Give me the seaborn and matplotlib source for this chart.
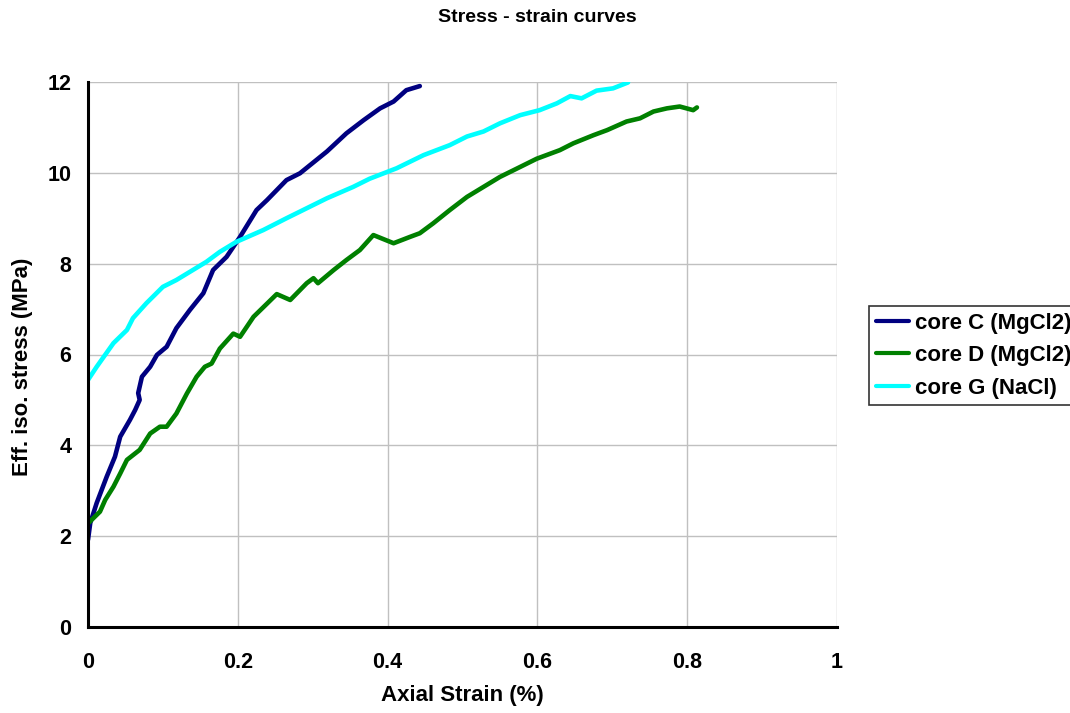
import numpy as np
import pandas as pd
import matplotlib
matplotlib.use("Agg")
import matplotlib.pyplot as plt
import seaborn as sns

# ---- data ----
c_strain = [0.0, 0.003, 0.0116, 0.025, 0.036, 0.043, 0.056, 0.063, 0.069, 0.067, 0.072, 0.083,
            0.092, 0.105, 0.118, 0.136, 0.154, 0.167, 0.185, 0.203, 0.225, 0.239, 0.265, 0.283,
            0.319, 0.345, 0.368, 0.390, 0.408, 0.425, 0.443]
c_stress = [1.92, 2.29, 2.73, 3.31, 3.75, 4.19, 4.56, 4.78, 5.00, 5.15, 5.51, 5.73,
            5.99, 6.17, 6.58, 6.98, 7.35, 7.86, 8.15, 8.59, 9.18, 9.40, 9.84, 9.99,
            10.47, 10.87, 11.16, 11.42, 11.57, 11.82, 11.91]

d_strain = [0.0, 0.016, 0.023, 0.034, 0.043, 0.052, 0.069, 0.083, 0.096, 0.105, 0.118, 0.132,
            0.145, 0.156, 0.165, 0.176, 0.194, 0.203, 0.221, 0.239, 0.252, 0.270, 0.292, 0.301,
            0.307, 0.328, 0.345, 0.363, 0.381, 0.408, 0.430, 0.443, 0.461, 0.483, 0.506, 0.528,
            0.550, 0.577, 0.599, 0.630, 0.648, 0.675, 0.693, 0.719, 0.737, 0.755, 0.773, 0.790,
            0.808, 0.813]
d_stress = [2.28, 2.54, 2.80, 3.09, 3.38, 3.68, 3.90, 4.26, 4.41, 4.41, 4.70, 5.14,
            5.51, 5.73, 5.80, 6.13, 6.46, 6.39, 6.83, 7.12, 7.33, 7.20, 7.57, 7.68,
            7.57, 7.86, 8.08, 8.30, 8.63, 8.45, 8.59, 8.67, 8.89, 9.18, 9.47, 9.69,
            9.91, 10.13, 10.31, 10.50, 10.65, 10.83, 10.94, 11.13, 11.20, 11.35, 11.42, 11.46,
            11.38, 11.44]

g_strain = [0.0, 0.0116, 0.034, 0.052, 0.060, 0.078, 0.100, 0.118, 0.136, 0.158, 0.176, 0.198,
            0.234, 0.265, 0.292, 0.319, 0.354, 0.376, 0.412, 0.448, 0.483, 0.506, 0.528, 0.550,
            0.577, 0.603, 0.626, 0.644, 0.659, 0.679, 0.701, 0.721]
g_stress = [5.44, 5.73, 6.25, 6.54, 6.80, 7.13, 7.49, 7.64, 7.82, 8.04, 8.26, 8.48,
            8.74, 9.00, 9.22, 9.44, 9.69, 9.87, 10.10, 10.39, 10.61, 10.80, 10.91, 11.09,
            11.27, 11.38, 11.53, 11.69, 11.64, 11.81, 11.86, 11.99]

series_names = ["core C (MgCl2)", "core D (MgCl2)", "core G (NaCl)"]
series_colors = ["#000080", "#008000", "#00FFFF"]

x_ticks = [0, 0.2, 0.4, 0.6, 0.8, 1]
x_ticklabels = ["0", "0.2", "0.4", "0.6", "0.8", "1"]
y_ticks = [0, 2, 4, 6, 8, 10, 12]

df = pd.concat([
    pd.DataFrame({"strain": c_strain, "stress": c_stress, "core": series_names[0]}),
    pd.DataFrame({"strain": d_strain, "stress": d_stress, "core": series_names[1]}),
    pd.DataFrame({"strain": g_strain, "stress": g_stress, "core": series_names[2]}),
], ignore_index=True)

sns.set_style("white")
plt.rcParams["font.family"] = ["Liberation Sans", "DejaVu Sans"]
plt.rcParams["font.weight"] = "bold"
for k in ["text.color", "axes.labelcolor", "xtick.color", "ytick.color"]:
    plt.rcParams[k] = "black"

fig = plt.figure(figsize=(10.7, 7.13), dpi=100)
ax = fig.add_axes([88/1070, 1-627/713, (837-88)/1070, (627-82)/713])

sns.lineplot(data=df, x="strain", y="stress", hue="core", hue_order=series_names,
             palette=series_colors, sort=False, estimator=None, linewidth=3.3, ax=ax)

ax.set_xlim(0, 1)
ax.set_ylim(0, 12)
ax.set_xticks(x_ticks)
ax.set_xticklabels(x_ticklabels)
ax.set_yticks(y_ticks)
ax.grid(True, color="#c0c0c0", linewidth=1)
ax.set_axisbelow(True)
for s in ["top", "right"]:
    ax.spines[s].set_visible(False)
for s in ["left", "bottom"]:
    ax.spines[s].set_color("black")
    ax.spines[s].set_linewidth(2.2)
ax.tick_params(axis="both", direction="out", length=5, width=2, color="black",
               labelsize=15.5, labelcolor="black")
ax.tick_params(axis="x", pad=13)
ax.tick_params(axis="y", pad=7)
for lab in ax.get_xticklabels() + ax.get_yticklabels():
    lab.set_fontweight("bold")

ax.set_xlabel("Axial Strain (%)", fontsize=16, fontweight="bold")
ax.set_ylabel("Eff. iso. stress (MPa)", fontsize=16, fontweight="bold")
ax.xaxis.set_label_coords(0.5, (627-685)/545)
ax.yaxis.set_label_coords((33-88)/749, (627-367)/545)
fig.text(537/1070, 1-18/713, "Stress - strain curves", ha="center", va="center",
         fontsize=14, fontweight="bold")

leg = ax.legend(loc="upper left", bbox_to_anchor=((869-88)/749, (627-306)/545),
                frameon=True, fancybox=False, fontsize=16, handlelength=1.5,
                handletextpad=0.25, borderpad=0.3, labelspacing=0.52, borderaxespad=0)
leg.get_frame().set_edgecolor("black")
leg.get_frame().set_linewidth(1.2)
for t in leg.get_texts():
    t.set_fontweight("bold")
for l in leg.get_lines():
    l.set_linewidth(3)

fig.savefig("out.png", dpi=100)
